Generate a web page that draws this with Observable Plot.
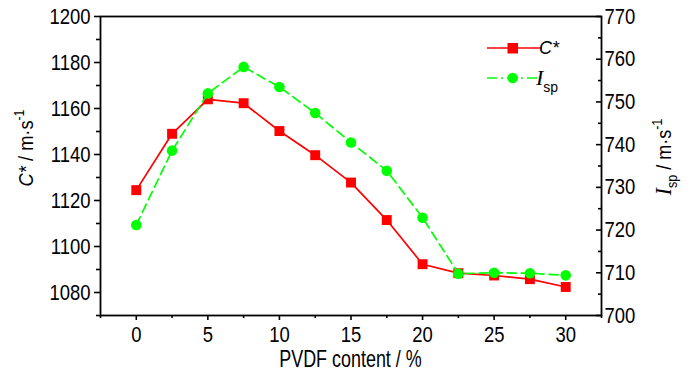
<!DOCTYPE html>
<html><head><meta charset="utf-8">
<script src="https://cdn.jsdelivr.net/npm/d3@7"></script>
<script src="https://cdn.jsdelivr.net/npm/@observablehq/plot@0.6"></script>
<style>body{margin:0;background:#fff} svg{display:block}</style>
</head><body><div id="chart"></div>
<script>
// ---- data ----
const pvdfContent = [0, 2.5, 5, 7.5, 10, 12.5, 15, 17.5, 20, 22.5, 25, 27.5, 30];
const cStar = [1124.5, 1149, 1164, 1162.3, 1150.2, 1139.7, 1127.8, 1111.5, 1092.3, 1088.4, 1087.4, 1085.8, 1082.4];
const isp = [721.2, 738.6, 752.0, 758.2, 753.5, 747.4, 740.5, 733.9, 722.9, 709.8, 710.0, 709.9, 709.4];

const xTicks = [0, 5, 10, 15, 20, 25, 30];
const xMinorTicks = [-2.5, 2.5, 7.5, 12.5, 17.5, 22.5, 27.5, 32.5];
const cTicks = [1080, 1100, 1120, 1140, 1160, 1180, 1200];
const cMinorTicks = [1070, 1090, 1110, 1130, 1150, 1170, 1190];
const ispTicks = [700, 710, 720, 730, 740, 750, 760, 770];
const ispMinorTicks = [705, 715, 725, 735, 745, 755, 765];

const xDomain = [-2.5, 32.5];
const cDomain = [1070, 1200];
const ispDomain = [700, 770];

const xTitle = "PVDF content / %";
const cLabel = "C*";
const ispLabel = ["I", "sp"];
const unitText = " / m·s";
const unitExp = "-1";

const RED = "#ff0000", GREEN = "#00ff00";

// map right-axis values onto the left scale
const toLeft = v => cDomain[0] + (v - ispDomain[0]) * (cDomain[1] - cDomain[0]) / (ispDomain[1] - ispDomain[0]);
const fromLeft = v => ispDomain[0] + (v - cDomain[0]) * (ispDomain[1] - ispDomain[0]) / (cDomain[1] - cDomain[0]);

const rows = pvdfContent.map((x, i) => ({x, c: cStar[i], ispL: toLeft(isp[i])}));

const W = 700, H = 374, mL = 100, mR = 99, mT = 16, mB = 59;
const frameW = W - mL - mR;

const chart = Plot.plot({
  width: W, height: H,
  marginLeft: mL, marginRight: mR, marginTop: mT, marginBottom: mB,
  style: {fontFamily: "'Liberation Sans', Arial, sans-serif", fontSize: "22px", color: "#000", background: "#fff"},
  x: {domain: xDomain},
  y: {domain: cDomain},
  marks: [
    Plot.axisX({ticks: xTicks, tickSize: 5, tickPadding: 6, label: null, tickFormat: d => String(d), strokeWidth: 1.6}),
    Plot.axisX({ticks: xMinorTicks, tickSize: 3, label: null, fill: "none", tickFormat: () => "", strokeWidth: 1.6}),
    Plot.axisY({ticks: cTicks, tickSize: 6, tickPadding: 4, label: null, tickFormat: d => String(d), strokeWidth: 1.6}),
    Plot.axisY({ticks: cMinorTicks, tickSize: 4, label: null, fill: "none", tickFormat: () => "", strokeWidth: 1.6}),
    Plot.axisY({anchor: "right", ticks: ispTicks.map(toLeft), tickFormat: d => String(Math.round(fromLeft(d))), tickSize: 0, tickPadding: 3, label: null}),
    Plot.tickY(ispTicks.map(toLeft), {y: d => d, insetLeft: frameW - 5, strokeWidth: 1.6}),
    Plot.tickY(ispMinorTicks.map(toLeft), {y: d => d, insetLeft: frameW - 3, strokeWidth: 1.6}),
    Plot.line(rows, {x: "x", y: "c", stroke: RED, strokeWidth: 1.7}),
    Plot.dot(rows, {x: "x", y: "c", symbol: "square", fill: RED, r: 5.6}),
    Plot.line(rows, {x: "x", y: "ispL", stroke: GREEN, strokeWidth: 1.7, strokeDasharray: "9,5"}),
    Plot.dot(rows, {x: "x", y: "ispL", symbol: "circle", fill: GREEN, r: 5.3}),
    Plot.frame({strokeWidth: 1.8})
  ]
});
document.getElementById("chart").appendChild(chart);

const svg = d3.select(chart);

// narrow the tick labels (the reference uses a condensed face)
function squeeze(sel, s) {
  sel.each(function() {
    const t = d3.select(this);
    const tr = t.attr("transform");
    if (tr) t.attr("transform", tr + ` scale(${s},1)`);
    else {
      const x = +t.attr("x") || 0, y = +t.attr("y") || 0;
      t.attr("transform", `translate(${x},${y}) scale(${s},1) translate(${-x},${-y})`);
    }
  });
}
squeeze(svg.selectAll('g[aria-label="x-axis tick label"] text, g[aria-label="y-axis tick label"] text'), 0.84);

// x title
svg.append("text")
  .attr("transform", `translate(${mL + frameW / 2},367) scale(0.78,1)`)
  .attr("text-anchor", "middle")
  .style("font-size", "23px").style("font-family", "'Liberation Sans', Arial, sans-serif")
  .text(xTitle);

// left title
const lt = svg.append("text")
  .attr("transform", "translate(33,148) rotate(-90) scale(0.87,1)")
  .attr("text-anchor", "middle")
  .style("font-size", "21px").style("font-family", "'Liberation Sans', Arial, sans-serif");
lt.append("tspan").style("font-style", "italic").text(cLabel);
lt.append("tspan").text(unitText);
lt.append("tspan").attr("dy", -9).style("font-size", "14px").text(unitExp);

// right title
const rt = svg.append("text")
  .attr("transform", "translate(671,157) rotate(-90) scale(0.9,1)")
  .attr("text-anchor", "middle")
  .style("font-size", "20px").style("font-family", "'Liberation Sans', Arial, sans-serif");
rt.append("tspan").style("font-family", "'Liberation Serif', 'Times New Roman', serif").style("font-style", "italic").style("font-size", "24px").text(ispLabel[0]);
rt.append("tspan").attr("dy", 6).style("font-size", "14px").text(ispLabel[1]);
rt.append("tspan").attr("dy", -6).text(unitText);
rt.append("tspan").attr("dy", -9).style("font-size", "14px").text(unitExp);

// legend
const lg = svg.append("g").attr("aria-label", "legend");
lg.append("line").attr("x1", 487).attr("x2", 542).attr("y1", 48).attr("y2", 48).attr("stroke", RED).attr("stroke-width", 1.7);
lg.append("rect").attr("x", 507.5).attr("y", 43).attr("width", 10.5).attr("height", 10.5).attr("fill", RED);
lg.append("text").attr("x", 549).attr("y", 53.5).style("font-size", "18px").style("font-style", "italic")
  .style("font-family", "'Liberation Sans', Arial, sans-serif").text(cLabel);
lg.append("line").attr("x1", 487).attr("x2", 542).attr("y1", 78).attr("y2", 78).attr("stroke", GREEN).attr("stroke-width", 1.7).attr("stroke-dasharray", "10,4,2,4");
lg.append("circle").attr("cx", 512.7).attr("cy", 78).attr("r", 5.3).attr("fill", GREEN);
const li = lg.append("text").attr("x", 547).attr("y", 85).style("font-family", "'Liberation Sans', Arial, sans-serif");
li.append("tspan").style("font-family", "'Liberation Serif', 'Times New Roman', serif").style("font-style", "italic").style("font-size", "22px").text(ispLabel[0]);
li.append("tspan").attr("dy", 7).style("font-size", "14px").text(ispLabel[1]);
</script>
</body></html>
